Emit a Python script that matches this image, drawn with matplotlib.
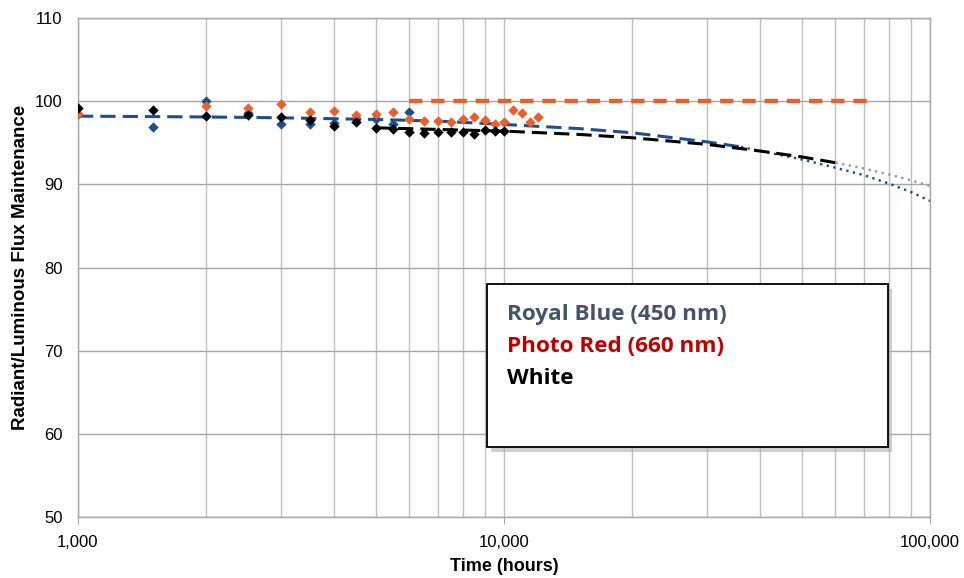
import matplotlib
matplotlib.use("Agg")
import matplotlib.pyplot as plt
from matplotlib.patches import Rectangle
from matplotlib.ticker import FixedLocator, NullFormatter, FuncFormatter

# ---- data ----
blue_t = [1000, 1500, 2000, 2500, 3000, 3500, 4000, 4500, 5000, 5500, 6000]
blue_v = [98.5, 96.9, 100.0, 98.6, 97.2, 97.3, 97.4, 97.8, 97.9, 97.3, 98.7]

red_t = [1000, 2000, 2500, 3000, 3500, 4000, 4500, 5000, 5500, 6000, 6500, 7000,
         7500, 8000, 8500, 9000, 9500, 10000, 10500, 11000, 11500, 12000]
red_v = [98.5, 99.4, 99.2, 99.7, 98.7, 98.8, 98.3, 98.4, 98.7, 97.9, 97.6, 97.6,
         97.5, 97.9, 98.1, 97.7, 97.3, 97.5, 98.9, 98.6, 97.5, 98.1]

white_t = [1000, 1500, 2000, 2500, 3000, 3500, 4000, 4500, 5000, 5500, 6000, 6500,
           7000, 7500, 8000, 8500, 9000, 9500, 10000]
white_v = [99.2, 98.9, 98.2, 98.3, 98.1, 97.7, 97.0, 97.5, 96.8, 96.6, 96.3, 96.2,
           96.3, 96.3, 96.3, 96.1, 96.5, 96.4, 96.4]

# fitted / projected curves
blue_fit_t = [1000, 2000, 3000, 5000, 7000, 10000, 15000, 20000, 25000, 30000, 36000]
blue_fit_v = [98.2, 98.1, 98.0, 97.8, 97.6, 97.2, 96.7, 96.2, 95.6, 95.1, 94.5]
blue_proj_t = [36000, 40000, 50000, 60000, 70000, 80000, 90000, 100000]
blue_proj_v = [94.5, 94.0, 93.0, 92.0, 91.1, 90.1, 89.1, 88.0]

white_fit_t = [5000, 7000, 10000, 15000, 20000, 30000, 40000, 50000, 60000]
white_fit_v = [96.8, 96.6, 96.4, 96.0, 95.6, 94.8, 94.0, 93.3, 92.6]
white_proj_t = [60000, 70000, 80000, 90000, 100000]
white_proj_v = [92.6, 91.9, 91.2, 90.5, 89.8]

red_fit_t = [6000, 72000]
red_fit_v = [100.0, 100.0]

legend_labels = ["Royal Blue (450 nm)", "Photo Red (660 nm)", "White"]
legend_colors = ["#44546A", "#C00000", "#000000"]

x_ticks = [1000, 10000, 100000]
y_ticks = [50, 60, 70, 80, 90, 100, 110]

BLUE = "#1F4E8C"
RED = "#E8602A"
GRID = "#C0C0C0"

plt.rcParams['font.family'] = ['Liberation Sans', 'DejaVu Sans']

fig = plt.figure(figsize=(9.64, 5.78), dpi=100)
ax = fig.add_axes([78/964, 1 - 517/578, (930-78)/964, (517-18)/578])

ax.set_xscale('log')
ax.set_xlim(1000, 100000)
ax.set_ylim(50, 110)

# grid
ax.xaxis.set_major_locator(FixedLocator(x_ticks))
minor = [m * d for d in (1000, 10000) for m in range(2, 10)]
ax.xaxis.set_minor_locator(FixedLocator(minor))
ax.xaxis.set_minor_formatter(NullFormatter())
ax.xaxis.set_major_formatter(FuncFormatter(lambda v, p: f"{int(v):,}"))
ax.yaxis.set_major_locator(FixedLocator(y_ticks))
ax.grid(True, which='both', axis='x', color=GRID, lw=1.0)
ax.grid(True, which='major', axis='y', color="#A6A6A6", lw=1.0)
ax.set_axisbelow(True)
for s in ax.spines.values():
    s.set_color("#A6A6A6")
    s.set_linewidth(1.0)
ax.tick_params(which='both', length=0, labelsize=12, colors='black', pad=8)
ax.tick_params(axis='y', pad=11)
ax.tick_params(axis='x', which='major', length=5, color="#A6A6A6", direction='out')

# curves
ax.plot(red_fit_t, red_fit_v, color=RED, lw=3.2, dashes=(3.0, 2.0), zorder=3)
ax.plot(blue_fit_t, blue_fit_v, color=BLUE, lw=2.2, dashes=(5.0, 2.3), zorder=3)
ax.plot(blue_proj_t, blue_proj_v, color=BLUE, lw=1.8, dashes=(0.9, 1.8), zorder=3)
ax.plot(white_fit_t, white_fit_v, color='black', lw=2.2, dashes=(5.0, 2.3), zorder=3)
ax.plot(white_proj_t, white_proj_v, color='#999999', lw=1.8, dashes=(0.9, 1.8), zorder=3)

# points
ax.scatter(blue_t, blue_v, marker='D', s=28, color=BLUE, zorder=4, linewidths=0)
ax.scatter(red_t, red_v, marker='D', s=28, color=RED, zorder=5, linewidths=0)
ax.scatter(white_t, white_v, marker='D', s=28, color='black', zorder=6, linewidths=0)

ax.set_xlabel("Time (hours)", fontsize=13, fontweight='bold', labelpad=6)
ax.set_ylabel("Radiant/Luminous Flux Maintenance", fontsize=13.5, fontweight='bold', labelpad=4)

# legend-like text box
bx0, by0, bx1, by1 = 487, 284, 888, 447
W, H = 964, 578
shadow = Rectangle(((bx0 + 4) / W, 1 - (by1 + 5) / H), (bx1 - bx0) / W, (by1 - by0) / H,
                   transform=fig.transFigure, facecolor='#B0B0B0', edgecolor='none',
                   alpha=0.6, zorder=8)
box = Rectangle((bx0 / W, 1 - by1 / H), (bx1 - bx0) / W, (by1 - by0) / H,
                transform=fig.transFigure, facecolor='white', edgecolor='black',
                lw=1.3, zorder=9)
fig.patches.extend([shadow, box])
for i, (lab, col) in enumerate(zip(legend_labels, legend_colors)):
    fig.text(507 / W, 1 - (320 + 32 * i) / H, lab, color=col, fontsize=16.2,
             fontweight='bold', family=['Open Sans', 'DejaVu Sans'],
             va='baseline', ha='left', zorder=10)

fig.savefig("out.png", dpi=100)
